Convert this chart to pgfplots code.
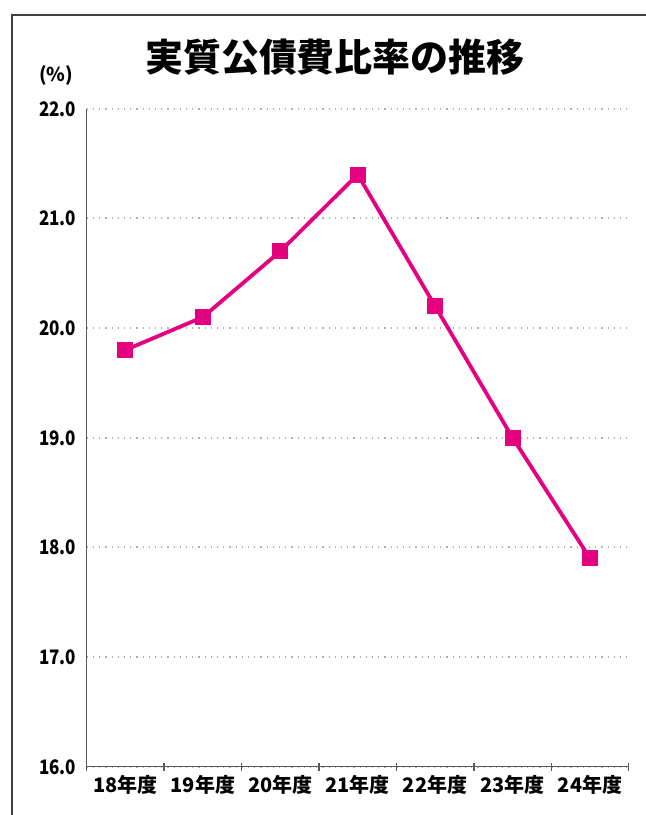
\documentclass[border=0pt]{standalone}
\usepackage{fontspec}
\setmainfont{Noto Sans CJK JP}
\usepackage{pgfplots}
\pgfplotsset{compat=1.18}
\definecolor{linepink}{RGB}{228,0,127}
\definecolor{gridgray}{RGB}{175,175,175}
\begin{document}
\begin{tikzpicture}[x=1pt,y=1pt]
\useasboundingbox (0,0) rectangle (646,815);
\fill[white] (0,0) rectangle (646,815);
% outer frame (cut off at right and bottom)
\draw[line width=2pt, black!75] (12,0) -- (12,800) -- (646,800);
\node[font=\fontsize{38}{42}\selectfont\bfseries] at (335,758) {実質公債費比率の推移};
\node[font=\fontsize{19}{22}\selectfont\bfseries] at (56,740) {(\%)};
\begin{axis}[
    at={(112,44)}, anchor=south west,
    scale only axis,
    width=542pt, height=658pt,
    xmin=-0.5, xmax=6.5,
    ymin=16, ymax=22,
    axis x line=bottom, axis y line=left,
    axis line style={-, black!65, line width=1.3pt},
    xtick={0,...,6},
    xticklabels={18年度,19年度,20年度,21年度,22年度,23年度,24年度},
    minor xtick={-0.5,0.5,...,6.5},
    major tick length=0pt,
    minor tick length=8pt,
    minor tick style={black!65, line width=1.3pt},
    ytick={16,17,...,22},
    ytick style={draw=none},
    ymajorgrids,
    grid style={gridgray, line width=2pt, dash pattern=on 1.2pt off 5pt},
    /pgf/number format/assume math mode=true,
    tick label style={font=\fontsize{20}{22}\selectfont\bfseries},
    yticklabel style={/pgf/number format/fixed, /pgf/number format/fixed zerofill, /pgf/number format/precision=1, xscale=0.85, xshift=-9pt},
    xticklabel style={yshift=-5pt},
  ]
  \addplot[linepink, line width=3.8pt, mark=square*, mark size=7.5pt,
           mark options={solid, fill=linepink, draw=linepink, line width=0pt}]
    coordinates {(0,19.8) (1,20.1) (2,20.7) (3,21.4) (4,20.2) (5,19.0) (6,17.9)};
\end{axis}
\end{tikzpicture}
\end{document}
